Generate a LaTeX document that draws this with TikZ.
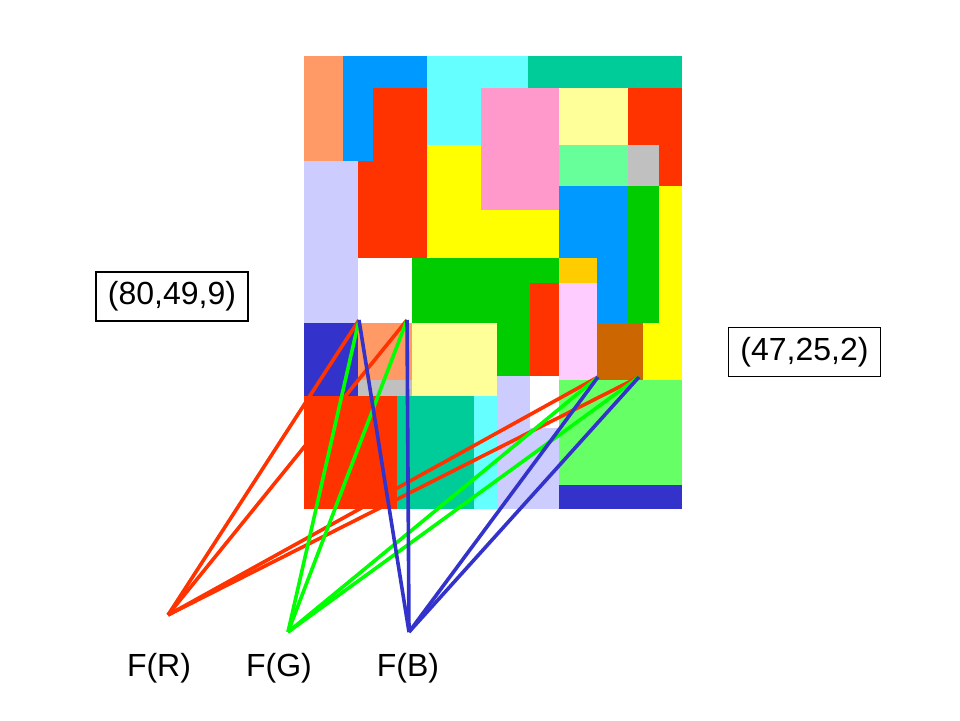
\documentclass[tikz,border=0pt]{standalone}
\usepackage{fontspec}
\setmainfont{Liberation Sans}
\definecolor{cSalmon}{HTML}{FF9966}
\definecolor{cBlue}{HTML}{0099FF}
\definecolor{cCyan}{HTML}{66FFFF}
\definecolor{cTeal}{HTML}{00CC99}
\definecolor{cRed}{HTML}{FF3300}
\definecolor{cLav}{HTML}{CCCCFF}
\definecolor{cYel}{HTML}{FFFF00}
\definecolor{cPink}{HTML}{FF99CC}
\definecolor{cPaleY}{HTML}{FFFF99}
\definecolor{cLtGrn}{HTML}{66FF99}
\definecolor{cGray}{HTML}{C0C0C0}
\definecolor{cGreen}{HTML}{00CC00}
\definecolor{cOrange}{HTML}{FFCC00}
\definecolor{cLtPink}{HTML}{FFCCFF}
\definecolor{cBrown}{HTML}{CC6600}
\definecolor{cDkBlue}{HTML}{3333CC}
\definecolor{cGrass}{HTML}{66FF66}
\definecolor{wRed}{HTML}{FF3300}
\definecolor{wGreen}{HTML}{00FF00}
\definecolor{wBlue}{HTML}{3333CC}
\begin{document}
\begin{tikzpicture}[x=1pt,y=-1pt,
  wire/.style={line width=3.6pt},
  wireR/.style={wire,draw=wRed},
  wireG/.style={wire,draw=wGreen},
  wireB/.style={wire,draw=wBlue},
  txt/.style={font=\fontsize{32}{38}\selectfont},
  valbox/.style={txt,draw=black,line width=1.2pt,minimum width=152pt,minimum height=49pt,inner sep=0pt},
  flabel/.style={txt,anchor=base,inner sep=0pt}]
\useasboundingbox (0,0) rectangle (960,720);
% mosaic
\fill[cSalmon] (304,56) rectangle (343,161);
\fill[cBlue] (343,56) rectangle (427,88);
\fill[cBlue] (343,88) rectangle (373,161);
\fill[cCyan] (427,56) rectangle (528,88);
\fill[cCyan] (427,88) rectangle (481,145);
\fill[cTeal] (528,56) rectangle (682,88);
\fill[cRed] (373,88) rectangle (427,161);
\fill[cRed] (358,161) rectangle (427,258);
\fill[cLav] (304,161) rectangle (358,323);
\fill[cYel] (427,145) rectangle (481,258);
\fill[cYel] (481,210) rectangle (559,258);
\fill[cPink] (481,88) rectangle (559,210);
\fill[cPaleY] (559,88) rectangle (628,145);
\fill[cRed] (628,88) rectangle (682,145);
\fill[cRed] (659,145) rectangle (682,186);
\fill[cLtGrn] (559,145) rectangle (628,186);
\fill[cGray] (628,145) rectangle (659,186);
\fill[cBlue] (559,186) rectangle (628,258);
\fill[cBlue] (597,258) rectangle (628,323);
\fill[cGreen] (628,186) rectangle (659,323);
\fill[cYel] (659,186) rectangle (682,380);
\fill[cYel] (643,323) rectangle (682,380);
\fill[cOrange] (559,258) rectangle (597,283);
\fill[cLtPink] (559,283) rectangle (597,380);
\fill[cBrown] (597,323) rectangle (643,380);
\fill[cRed] (530,283) rectangle (559,376);
\fill[cGreen] (412,258) rectangle (559,283);
\fill[cGreen] (412,283) rectangle (530,323);
\fill[cGreen] (497,323) rectangle (530,376);
\fill[cPaleY] (412,323) rectangle (497,396);
\fill[cDkBlue] (304,323) rectangle (358,396);
\fill[cSalmon] (358,323) rectangle (412,380);
\fill[cGray] (358,380) rectangle (412,396);
\fill[cRed] (304,396) rectangle (397,509);
\fill[cTeal] (397,396) rectangle (474,509);
\fill[cCyan] (474,396) rectangle (497,509);
\fill[cLav] (497,376) rectangle (530,509);
\fill[cLav] (530,428) rectangle (559,509);
\fill[cGrass] (559,380) rectangle (682,485);
\fill[cDkBlue] (559,485) rectangle (682,509);
% end points
\coordinate (pA) at (359,320);
\coordinate (pB) at (407,320);
\coordinate (pC) at (598,377);
\coordinate (pD) at (639,377);
\coordinate (fR) at (168,615);
\coordinate (fG) at (288,632);
\coordinate (fB) at (409,632);
% connectors
\draw[wireR] (pA) -- (fR);
\draw[wireR] (pB) -- (fR);
\draw[wireR] (pC) -- (fR);
\draw[wireR] (pD) -- (fR);
\draw[wireG] (pA) -- (fG);
\draw[wireG] (pB) -- (fG);
\draw[wireG] (pC) -- (fG);
\draw[wireG] (pD) -- (fG);
\draw[wireB] (pA) -- (fB);
\draw[wireB] (pB) -- (fB);
\draw[wireB] (pC) -- (fB);
\draw[wireB] (pD) -- (fB);
% labels
\node[valbox] (v1) at (172,296.5) {(80,49,9)};
\node[valbox] (v2) at (804.5,352) {(47,25,2)};
\node[flabel] (lR) at (159,676) {F(R)};
\node[flabel] (lG) at (279,676) {F(G)};
\node[flabel] (lB) at (408,676) {F(B)};
\end{tikzpicture}
\end{document}
